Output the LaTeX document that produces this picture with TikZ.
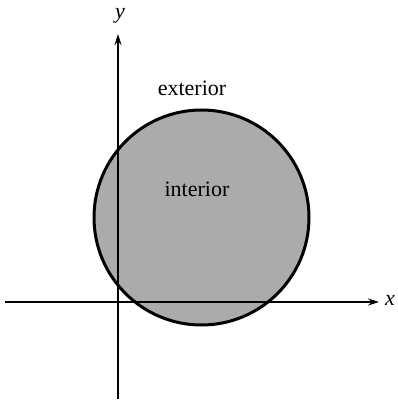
\documentclass[tikz,border=0pt]{standalone}
\usepackage{fontspec}
\setmainfont{Liberation Serif}
\usetikzlibrary{arrows.meta}
\begin{document}
\begin{tikzpicture}[x=1pt,y=-1pt,
  axis/.style={line width=1.2pt,-{Stealth[length=11pt,width=7pt]}},
  region/.style={draw=black,line width=3pt,fill=black!33},
  lbl/.style={font=\fontsize{22}{25}\selectfont,inner sep=0pt}]
\useasboundingbox (0,0) rectangle (397,401);
\node[region,circle,minimum size=215pt,inner sep=0pt] (disk) at (201.5,217.5) {};
\coordinate (xs) at (5,302);
\coordinate (xe) at (379,302);
\coordinate (ys) at (118,399);
\coordinate (ye) at (118,34);
\draw[axis] (xs) -- (xe);
\draw[axis] (ys) -- (ye);
\node[lbl,font=\fontsize{22}{25}\selectfont\itshape] (xl) at (390,300) {x};
\node[lbl,font=\fontsize{22}{25}\selectfont\itshape] (yl) at (120,16) {y};
\node[lbl] (ext) at (192,88) {exterior};
\node[lbl] (int) at (197,189) {interior};
\end{tikzpicture}
\end{document}
